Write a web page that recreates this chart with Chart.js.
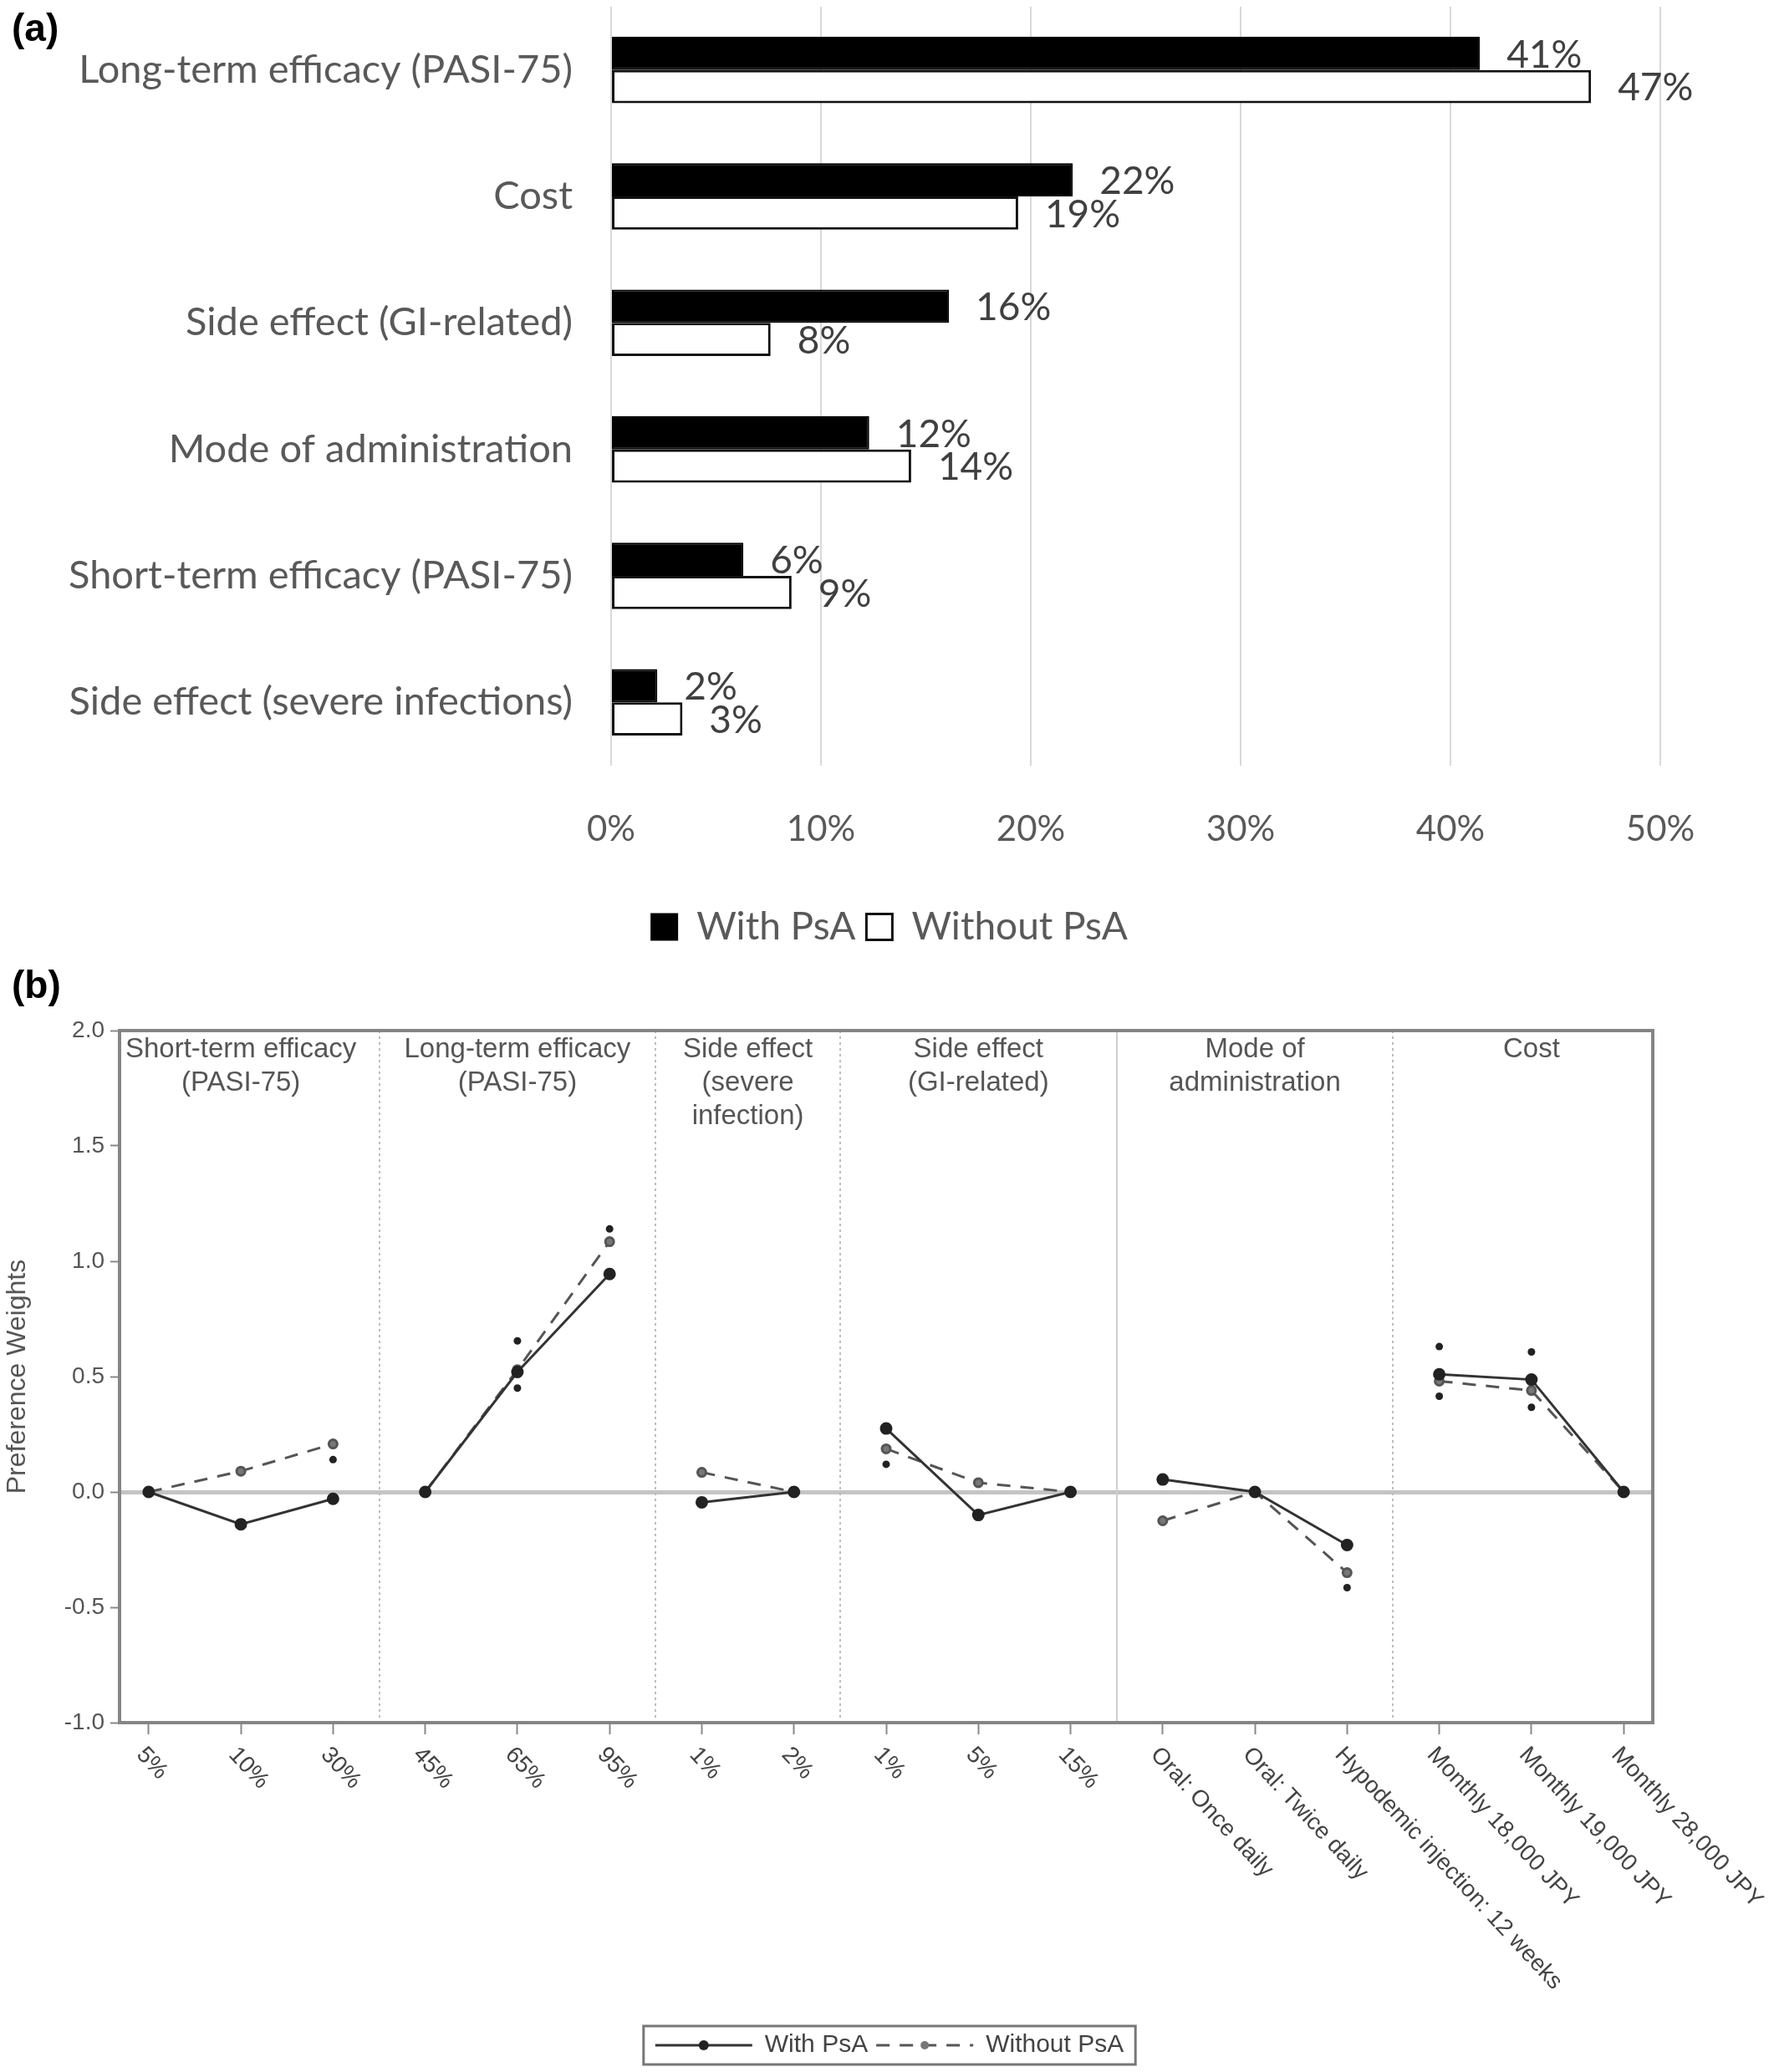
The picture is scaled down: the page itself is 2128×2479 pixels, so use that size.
<!DOCTYPE html>
<html>
<head>
<meta charset="utf-8">
<script src="https://cdn.jsdelivr.net/npm/chart.js@4.4.0/dist/chart.umd.min.js"></script>
<style>
body { margin: 0; background: #fff; width: 2128px; height: 2479px; position: relative; overflow: hidden; }
#wa { position: absolute; left: 0; top: 0; }
#wb { position: absolute; left: 0; top: 1150px; }
.tag { position: absolute; font: bold 46px "Liberation Sans", Arial, sans-serif; color: #000; }
</style>
</head>
<body>
<div id="wa"><canvas id="chartA" width="2128" height="1150"></canvas></div>
<div id="wb"><canvas id="chartB" width="2128" height="1329"></canvas></div>
<div class="tag" style="left:14px;top:6px">(a)</div>
<div class="tag" style="left:14px;top:1151px">(b)</div>
<script>
// panel (a): relative importance
const attributes = ['Long-term efficacy (PASI-75)', 'Cost', 'Side effect (GI-related)',
    'Mode of administration', 'Short-term efficacy (PASI-75)', 'Side effect (severe infections)'];
const importanceWith = [41.4, 22.0, 16.1, 12.3, 6.3, 2.2];
const importanceWithout = [46.7, 19.4, 7.6, 14.3, 8.6, 3.4];
const pctTicks = [0, 10, 20, 30, 40, 50];

// panel (b): preference weights
const levels = ['5%', '10%', '30%', '45%', '65%', '95%', '1%', '2%', '1%', '5%', '15%',
    'Oral: Once daily', 'Oral: Twice daily', 'Hypodemic injection: 12 weeks',
    'Monthly 18,000 JPY', 'Monthly 19,000 JPY', 'Monthly 28,000 JPY'];
const groupTitles = [['Short-term efficacy', '(PASI-75)'], ['Long-term efficacy', '(PASI-75)'],
    ['Side effect', '(severe', 'infection)'], ['Side effect', '(GI-related)'],
    ['Mode of', 'administration'], ['Cost']];
const groupSizes = [3, 3, 2, 3, 3, 3];
const weightWith = [0, -0.14, -0.03, 0, 0.52, 0.945, -0.045, 0, 0.275, -0.10, 0, 0.054, 0, -0.23, 0.51, 0.487, 0];
const weightWithout = [0, 0.09, 0.208, 0, 0.53, 1.085, 0.085, 0, 0.187, 0.04, 0, -0.125, 0, -0.35, 0.48, 0.44, 0];
const extraLevel = [2, 4, 4, 5, 8, 13, 14, 14, 15, 15];
const extraValue = [0.14, 0.655, 0.45, 1.14, 0.12, -0.415, 0.63, 0.415, 0.607, 0.367];
const weightTicks = [-1, -0.5, 0, 0.5, 1, 1.5, 2];

const GREY = '#595959';

// spacer axis on the right so the legend centres on the whole canvas
const spacer = w => ({
    position: 'right',
    afterFit: s => { s.width = w; s.paddingTop = 0; s.paddingBottom = 0; },
    ticks: { display: false },
    grid: { display: false },
    border: { display: false }
});

const barLabels = {
    id: 'barLabels',
    afterDatasetsDraw(chart) {
        const ctx = chart.ctx;
        ctx.save();
        ctx.font = '46px Lato';
        ctx.fillStyle = '#404040';
        ctx.textAlign = 'left';
        ctx.textBaseline = 'middle';
        chart.data.datasets.forEach((ds, di) => {
            chart.getDatasetMeta(di).data.forEach((bar, i) => {
                ctx.fillText(Math.round(ds.data[i]) + '%', bar.x + 32, bar.y + 2);
            });
        });
        ctx.restore();
    }
};

new Chart(document.getElementById('chartA'), {
    type: 'bar',
    data: {
        labels: attributes,
        datasets: [{
            label: 'With PsA',
            data: importanceWith,
            backgroundColor: '#000',
            borderColor: '#000',
            borderWidth: 2,
            borderSkipped: false,
            categoryPercentage: 0.525,
            barPercentage: 1
        }, {
            label: 'Without PsA',
            data: importanceWithout,
            backgroundColor: '#fff',
            borderColor: '#111',
            borderWidth: 3,
            borderSkipped: false,
            categoryPercentage: 0.525,
            barPercentage: 1
        }]
    },
    options: {
        indexAxis: 'y',
        responsive: false,
        animation: false,
        devicePixelRatio: 1,
        layout: { padding: { top: 8, right: 0, bottom: 8, left: 0 } },
        scales: {
            x: {
                min: 0,
                max: 50,
                afterBuildTicks: s => { s.ticks = pctTicks.map(v => ({ value: v })); },
                afterFit: s => { s.height = 157; },
                ticks: { callback: v => v + '%', font: { family: 'Lato', size: 42 }, color: GREY, padding: 51 },
                grid: { color: '#d9d9d9', lineWidth: 2, drawTicks: false },
                border: { display: false }
            },
            y: {
                afterFit: s => { s.width = 731; s.paddingTop = 0; s.paddingBottom = 0; },
                ticks: { font: { family: 'Lato', size: 47 }, color: GREY, padding: 0 },
                grid: { display: false, tickLength: 46 },
                border: { display: false }
            },
            y2: spacer(142)
        },
        plugins: {
            legend: {
                position: 'bottom',
                labels: { font: { family: 'Lato', size: 46 }, color: GREY, boxWidth: 31, boxHeight: 31, padding: 13 }
            },
            tooltip: { enabled: false }
        }
    },
    plugins: [barLabels]
});

// which attribute each level belongs to
const groupOf = [];
groupSizes.forEach((n, g) => { for (let k = 0; k < n; k++) groupOf.push(g); });
const sameGroup = c => groupOf[c.p0DataIndex] === groupOf[c.p1DataIndex];
const FONT_B = '"Liberation Sans", Arial, sans-serif';

const panelB = {
    id: 'panelB',
    beforeDatasetsDraw(chart) {
        const { ctx, chartArea: a, scales: { x } } = chart;
        ctx.save();
        let start = 0;
        groupSizes.slice(0, -1).forEach((n, g) => {
            start += n;
            const px = Math.round(x.getPixelForValue(start - 0.5));
            ctx.beginPath();
            ctx.strokeStyle = g === 3 ? '#cfcfcf' : '#bdbdbd';
            ctx.lineWidth = 2;
            ctx.setLineDash(g === 3 ? [] : [3, 4]);
            ctx.moveTo(px, a.top);
            ctx.lineTo(px, a.bottom);
            ctx.stroke();
        });
        ctx.restore();
    },
    afterDraw(chart) {
        const { ctx, chartArea: a, scales: { x } } = chart;
        ctx.save();
        // frame
        ctx.strokeStyle = '#858585';
        ctx.lineWidth = 4;
        ctx.strokeRect(a.left, a.top, a.right - a.left, a.bottom - a.top);
        // attribute headers
        ctx.fillStyle = '#555';
        ctx.font = '33px ' + FONT_B;
        ctx.textAlign = 'center';
        ctx.textBaseline = 'middle';
        let start = 0;
        groupTitles.forEach((lines, g) => {
            const cx = x.getPixelForValue(start + (groupSizes[g] - 1) / 2);
            lines.forEach((t, k) => ctx.fillText(t, cx, a.top + 23 + k * 40));
            start += groupSizes[g];
        });
        // level labels, slanted
        ctx.font = '28px ' + FONT_B;
        ctx.fillStyle = '#444';
        ctx.textAlign = 'left';
        levels.forEach((t, i) => {
            ctx.save();
            ctx.translate(x.getPixelForValue(i) - 10, a.bottom + 34);
            ctx.rotate(47 * Math.PI / 180);
            ctx.fillText(t, 0, 0);
            ctx.restore();
        });
        // legend frame and markers
        const hb = chart.legend.legendHitBoxes;
        if (hb && hb.length) {
            const l = hb[0].left - 14, r = hb[hb.length - 1].left + hb[hb.length - 1].width + 14;
            const t = hb[0].top - 8, b = hb[0].top + hb[0].height + 8;
            ctx.strokeStyle = '#777';
            ctx.lineWidth = 3;
            ctx.strokeRect(l, t, r - l, b - t);
            hb.forEach((h, i) => {
                ctx.beginPath();
                ctx.fillStyle = i === 0 ? '#222' : '#777';
                ctx.arc(h.left + 58, h.top + h.height / 2, i === 0 ? 6 : 5, 0, Math.PI * 2);
                ctx.fill();
            });
        }
        ctx.restore();
    }
};

new Chart(document.getElementById('chartB'), {
    type: 'line',
    data: {
        datasets: [{
            label: 'With PsA',
            data: weightWith.map((y, i) => ({ x: i, y })),
            borderColor: '#333',
            borderWidth: 3,
            pointRadius: 6,
            pointBackgroundColor: '#222',
            pointBorderColor: '#222',
            segment: { borderColor: c => sameGroup(c) ? '#333' : 'rgba(0,0,0,0)' }
        }, {
            label: 'Without PsA',
            data: weightWithout.map((y, i) => ({ x: i, y })),
            borderColor: '#555',
            borderWidth: 3,
            borderDash: [16, 12],
            pointRadius: 5,
            pointBackgroundColor: '#777',
            pointBorderColor: '#555',
            segment: { borderColor: c => sameGroup(c) ? '#555' : 'rgba(0,0,0,0)' }
        }, {
            label: 'extra',
            data: extraLevel.map((x, i) => ({ x, y: extraValue[i] })),
            showLine: false,
            pointRadius: 4.5,
            pointBackgroundColor: '#222',
            pointBorderWidth: 0
        }]
    },
    options: {
        responsive: false,
        animation: false,
        devicePixelRatio: 1,
        layout: { padding: { top: 83, right: 0, bottom: 7, left: 0 } },
        scales: {
            x: {
                type: 'linear',
                min: -0.316,
                max: 16.316,
                afterBuildTicks: s => { s.ticks = levels.map((_, i) => ({ value: i })); },
                afterFit: s => { s.height = 361; s.paddingLeft = 0; s.paddingRight = 0; },
                ticks: { display: false },
                grid: { drawOnChartArea: false, tickLength: 14, tickColor: '#888', tickWidth: 2 },
                border: { display: false }
            },
            y: {
                min: -1,
                max: 2,
                afterBuildTicks: s => { s.ticks = weightTicks.map(v => ({ value: v })); },
                afterFit: s => { s.width = 143; s.paddingTop = 0; s.paddingBottom = 0; },
                ticks: { callback: v => v.toFixed(1), font: { family: 'Liberation Sans', size: 28 }, color: '#555', padding: 7 },
                grid: {
                    color: c => c.tick && c.tick.value === 0 ? '#c4c4c4' : 'rgba(0,0,0,0)',
                    lineWidth: c => c.tick && c.tick.value === 0 ? 5 : 1,
                    tickLength: 11, tickColor: '#888', tickWidth: 2
                },
                border: { display: false },
                title: { display: true, text: 'Preference Weights', font: { family: 'Liberation Sans', size: 32 }, color: '#555', padding: 2 }
            },
            y2: spacer(151)
        },
        plugins: {
            legend: {
                position: 'bottom',
                labels: {
                    generateLabels: chart => Chart.defaults.plugins.legend.labels.generateLabels(chart).map(item => {
                        const ds = chart.data.datasets[item.datasetIndex];
                        return Object.assign(item, { lineDash: ds.borderDash || [], lineWidth: 3, strokeStyle: ds.borderColor });
                    }),
                    filter: item => item.datasetIndex < 2,
                    usePointStyle: true,
                    pointStyle: 'line',
                    pointStyleWidth: 116,
                    font: { family: 'Liberation Sans', size: 30 },
                    color: '#444',
                    padding: 10
                }
            },
            tooltip: { enabled: false }
        }
    },
    plugins: [panelB]
});
</script>
</body>
</html>
